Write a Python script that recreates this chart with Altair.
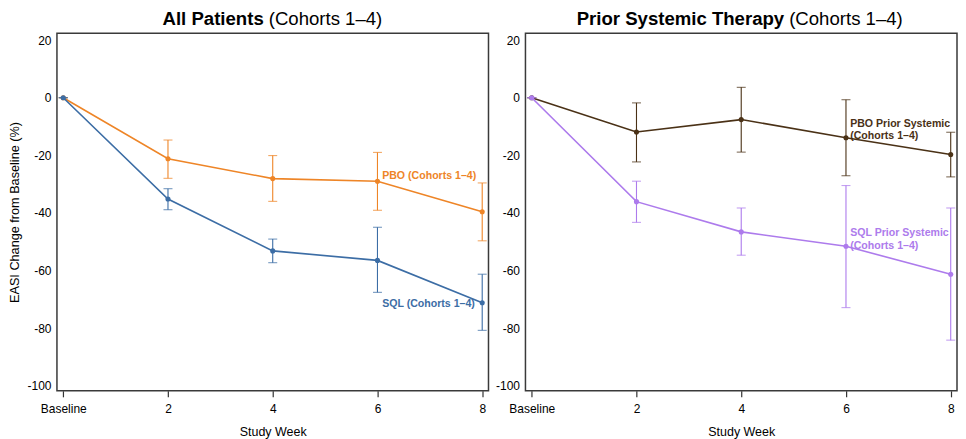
import altair as alt
import pandas as pd

weeks = [0, 2, 4, 6, 8]
week_labels = ["Baseline", "2", "4", "6", "8"]

# Panel 1: All Patients
pbo_all = [0, -21.2, -28.1, -29.0, -39.6]
pbo_all_lo = [0, -28.0, -36.0, -39.1, -49.7]
pbo_all_hi = [0, -14.7, -20.1, -19.0, -29.6]

sql_all = [0, -35.2, -53.2, -56.5, -71.2]
sql_all_lo = [0, -38.9, -57.3, -67.6, -80.8]
sql_all_hi = [0, -31.6, -49.1, -45.0, -61.3]

# Panel 2: Prior Systemic Therapy
pbo_prior = [0, -11.9, -7.6, -13.9, -19.7]
pbo_prior_lo = [0, -22.3, -18.9, -27.1, -27.5]
pbo_prior_hi = [0, -1.8, 3.6, -0.7, -12.0]

sql_prior = [0, -36.1, -46.6, -51.6, -61.3]
sql_prior_lo = [0, -43.3, -54.7, -72.9, -84.2]
sql_prior_hi = [0, -29.0, -38.3, -30.5, -38.3]

# Series labels (text, x week, y value)
labels_all = ["PBO (Cohorts 1–4)", "SQL (Cohorts 1–4)"]
labels_all_x = [6.09, 6.09]
labels_all_y = [-27.1, -71.7]

labels_prior = ["PBO Prior Systemic\n(Cohorts 1–4)", "SQL Prior Systemic\n(Cohorts 1–4)"]
labels_prior_x = [6.08, 6.08]
labels_prior_y = [-9.0, -47.15]

titles_bold = ["All Patients", "Prior Systemic Therapy"]
titles_rest = ["(Cohorts 1–4)", "(Cohorts 1–4)"]

ORANGE = "#EE8527"
BLUE = "#3C6DA5"
BROWN = "#4A3116"
PURPLE = "#AD7BEC"

FONT = "Liberation Sans"
H = 358
X_DOMAIN = [-0.12, 8.12]
Y_DOMAIN = [-101.8, 22.4]


def x_enc(field):
    return alt.X(
        f"{field}:Q",
        scale=alt.Scale(domain=X_DOMAIN, nice=False, zero=False),
        axis=alt.Axis(
            values=weeks,
            labelExpr="datum.value == 0 ? 'Baseline' : datum.label",
            title="Study Week",
            grid=False,
            domain=False,
            tickSize=6,
            tickColor="#333333",
            tickWidth=1.2,
            labelFontSize=12,
            labelPadding=7,
            labelColor="#000000",
            titleFontSize=12.5,
            titleFontWeight="normal",
            titleColor="#000000",
            titlePadding=11,
        ),
    )


def y_enc(field, show_title):
    axis_kwargs = dict(
        values=[-100, -80, -60, -40, -20, 0, 20],
        labelExpr="'' + datum.value",
        grid=False,
        domain=False,
        ticks=False,
        tickSize=0,
        labelFontSize=12,
        labelPadding=6,
        labelColor="#000000",
    )
    if show_title:
        axis_kwargs.update(
            title="EASI Change from Baseline (%)",
            titleFontSize=12.7,
            titleFontWeight="normal",
            titleColor="#000000",
            titlePadding=5,
        )
    else:
        axis_kwargs.update(title=None)
    return alt.Y(
        f"{field}:Q",
        scale=alt.Scale(domain=Y_DOMAIN, nice=False, zero=False),
        axis=alt.Axis(**axis_kwargs),
    )


def series_layers(mean, lo, hi, color, show_title):
    df = pd.DataFrame({"week": weeks, "mean": mean, "lo": lo, "hi": hi})
    base = alt.Chart(df)
    line = base.mark_line(color=color, strokeWidth=1.6).encode(
        x=x_enc("week"), y=y_enc("mean", show_title)
    )
    err = base.mark_errorbar(ticks=True, size=9, thickness=1.1, color=color).encode(
        x=x_enc("week"), y=y_enc("lo", show_title), y2="hi:Q"
    )
    pts = base.mark_circle(color=color, size=26, opacity=1).encode(
        x=x_enc("week"), y=y_enc("mean", show_title)
    )
    return [err, line, pts]


def make_panel(series, lab_text, lab_x, lab_y, lab_colors, tb, tr, split_x, show_title, width):
    layers = []
    for mean, lo, hi, color in series:
        layers += series_layers(mean, lo, hi, color, show_title)
    lab_df = pd.DataFrame({"label": lab_text, "x": lab_x, "y": lab_y, "color": lab_colors})
    labels = alt.Chart(lab_df).mark_text(
        align="left", baseline="middle", font=FONT, fontSize=10.6,
        fontWeight="bold", lineBreak="\n", lineHeight=12.2,
    ).encode(
        x=x_enc("x"), y=y_enc("y", show_title),
        text="label:N", color=alt.Color("color:N", scale=None),
    )
    layers.append(labels)
    t_df = pd.DataFrame({"bold": [tb], "rest": [tr]})
    t_bold = alt.Chart(t_df).mark_text(
        align="right", baseline="alphabetic", font=FONT, fontSize=18.6,
        fontWeight="bold", color="#000000",
    ).encode(x=alt.value(split_x), y=alt.value(-8.3), text="bold:N")
    t_rest = alt.Chart(t_df).mark_text(
        align="left", baseline="alphabetic", font=FONT, fontSize=18.6,
        fontWeight="normal", color="#000000",
    ).encode(x=alt.value(split_x + 5), y=alt.value(-8.3), text="rest:N")
    layers += [t_bold, t_rest]
    return alt.layer(*layers).properties(width=width, height=H)


left = make_panel(
    [(pbo_all, pbo_all_lo, pbo_all_hi, ORANGE), (sql_all, sql_all_lo, sql_all_hi, BLUE)],
    labels_all, labels_all_x, labels_all_y, [ORANGE, BLUE],
    titles_bold[0], titles_rest[0], 207, True, 432,
)
right = make_panel(
    [(pbo_prior, pbo_prior_lo, pbo_prior_hi, BROWN), (sql_prior, sql_prior_lo, sql_prior_hi, PURPLE)],
    labels_prior, labels_prior_x, labels_prior_y, [BROWN, PURPLE],
    titles_bold[1], titles_rest[1], 259, False, 432,
)

chart = (
    alt.hconcat(left, right, spacing=5)
    .properties(padding={"left": 0, "top": 0, "right": 0, "bottom": 0})
    .configure(font=FONT)
    .configure_view(stroke="#3a3a3a", strokeWidth=1.5)
    .configure_axis(labelFont=FONT, titleFont=FONT)
)

chart.save("out.html", embed_options={"renderer": "svg", "actions": False})
